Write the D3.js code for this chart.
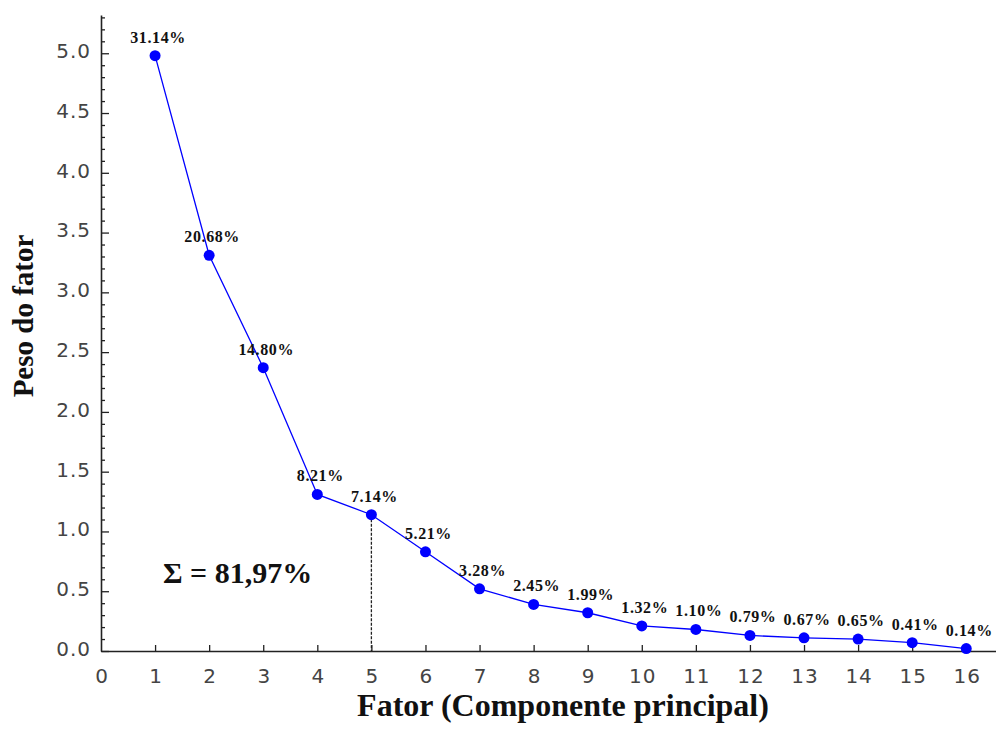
<!DOCTYPE html>
<html>
<head>
<meta charset="utf-8">
<script src="https://d3js.org/d3.v7.min.js"></script>
<style>
  body { margin: 0; background: #fff; }
  .tick text { font-family: "DejaVu Sans", sans-serif; font-size: 20px; fill: #444; letter-spacing: 1px; }
  .lbl { font-family: "Liberation Serif", serif; font-weight: bold; font-size: 16px; fill: #111; letter-spacing: 0.6px; }
  .title { font-family: "Liberation Serif", serif; font-weight: bold; font-size: 32px; fill: #111; }
</style>
</head>
<body>
<svg id="main-svg" width="996" height="747"></svg>
<script>
(function() {

    // factor numbers
    var factors = [1, 2, 3, 4, 5, 6, 7, 8, 9, 10, 11, 12, 13, 14, 15, 16];

    // eigenvalues (peso do fator)
    var weights = [4.98, 3.31, 2.37, 1.31, 1.14, 0.83, 0.52, 0.39, 0.32, 0.21, 0.18, 0.13, 0.11, 0.10, 0.07, 0.02];

    // explained variance labels
    var pctLabels = ["31.14%", "20.68%", "14.80%", "8.21%", "7.14%", "5.21%", "3.28%", "2.45%",
                     "1.99%", "1.32%", "1.10%", "0.79%", "0.67%", "0.65%", "0.41%", "0.14%"];

    var xTicks = [0, 1, 2, 3, 4, 5, 6, 7, 8, 9, 10, 11, 12, 13, 14, 15, 16];
    var yTicks = [0, 0.5, 1, 1.5, 2, 2.5, 3, 3.5, 4, 4.5, 5];
    var cutFactor = 5;
    var sumText = "\u03A3 = 81,97%";

    var svg = d3.select("#main-svg");

    var x = d3.scaleLinear().domain([0, 16.55]).range([101, 996]);
    var y = d3.scaleLinear().domain([0, 5.32]).range([651, 15]);

    // minor y ticks
    var minor = d3.range(0, 5.31, 0.1).filter(function(v) {
        return Math.abs(v * 2 - Math.round(v * 2)) > 0.01;
    });
    svg.append("g")
    .attr("transform", "translate(101,0)")
    .call(d3.axisLeft(y).tickValues(minor).tickSize(-4).tickSizeOuter(0).tickFormat(""))
    .call(function(g) { g.select(".domain").remove(); })
    .selectAll("line").attr("stroke", "#222").attr("stroke-width", 1.3);

    svg.append("g")
    .attr("transform", "translate(101,0)")
    .call(d3.axisLeft(y).tickValues(yTicks).tickSize(-8).tickSizeOuter(0).tickPadding(10)
        .tickFormat(d3.format(".1f")))
    .call(function(g) {
        g.select(".domain").attr("stroke", "#222").attr("stroke-width", 1.6);
        g.selectAll("line").attr("stroke", "#222").attr("stroke-width", 1.3);
        g.selectAll("text").attr("dy", "0.22em");
    });

    svg.append("g")
    .attr("transform", "translate(0,651)")
    .call(d3.axisBottom(x).tickValues(xTicks).tickSize(-6).tickSizeOuter(0).tickPadding(18))
    .call(function(g) {
        g.select(".domain").attr("stroke", "#222").attr("stroke-width", 1.6);
        g.selectAll("line").attr("stroke", "#222").attr("stroke-width", 1.3);
        g.selectAll("text").attr("dx", "0.5px");
        g.selectAll(".tick").filter(function(d) { return d === 0; }).select("line").remove();
    });

    // dashed cut line
    svg.append("line")
    .attr("x1", x(cutFactor)).attr("x2", x(cutFactor))
    .attr("y1", y(weights[cutFactor - 1])).attr("y2", y(0))
    .attr("stroke", "#222").attr("stroke-width", 1.3)
    .attr("stroke-dasharray", "3,1.5");

    var pts = factors.map(function(f, i) { return {f: f, v: weights[i], t: pctLabels[i]}; });

    svg.append("path")
    .datum(pts)
    .attr("fill", "none")
    .attr("stroke", "#0000ff")
    .attr("stroke-width", 1.3)
    .attr("d", d3.line().x(function(d) { return x(d.f); }).y(function(d) { return y(d.v); }));

    svg.selectAll(".pt")
    .data(pts)
    .enter()
    .append("circle")
    .classed("pt", true)
    .attr("cx", function(d) { return x(d.f); })
    .attr("cy", function(d) { return y(d.v); })
    .attr("r", 5.5)
    .attr("fill", "#0000ff");

    svg.selectAll(".lbl")
    .data(pts)
    .enter()
    .append("text")
    .classed("lbl", true)
    .attr("x", function(d) { return x(d.f) + 3; })
    .attr("y", function(d) { return y(d.v) - 13; })
    .attr("text-anchor", "middle")
    .text(function(d) { return d.t; });

    svg.append("text")
    .classed("title", true)
    .attr("x", 163).attr("y", 583)
    .style("font-size", "30px")
    .text(sumText);

    svg.append("text")
    .classed("title", true)
    .attr("x", 563).attr("y", 716)
    .attr("text-anchor", "middle")
    .text("Fator (Componente principal)");

    svg.append("text")
    .classed("title", true)
    .attr("transform", "translate(33,316) rotate(-90)")
    .attr("text-anchor", "middle")
    .style("font-size", "29px")
    .text("Peso do fator");
})();
</script>
</body>
</html>
